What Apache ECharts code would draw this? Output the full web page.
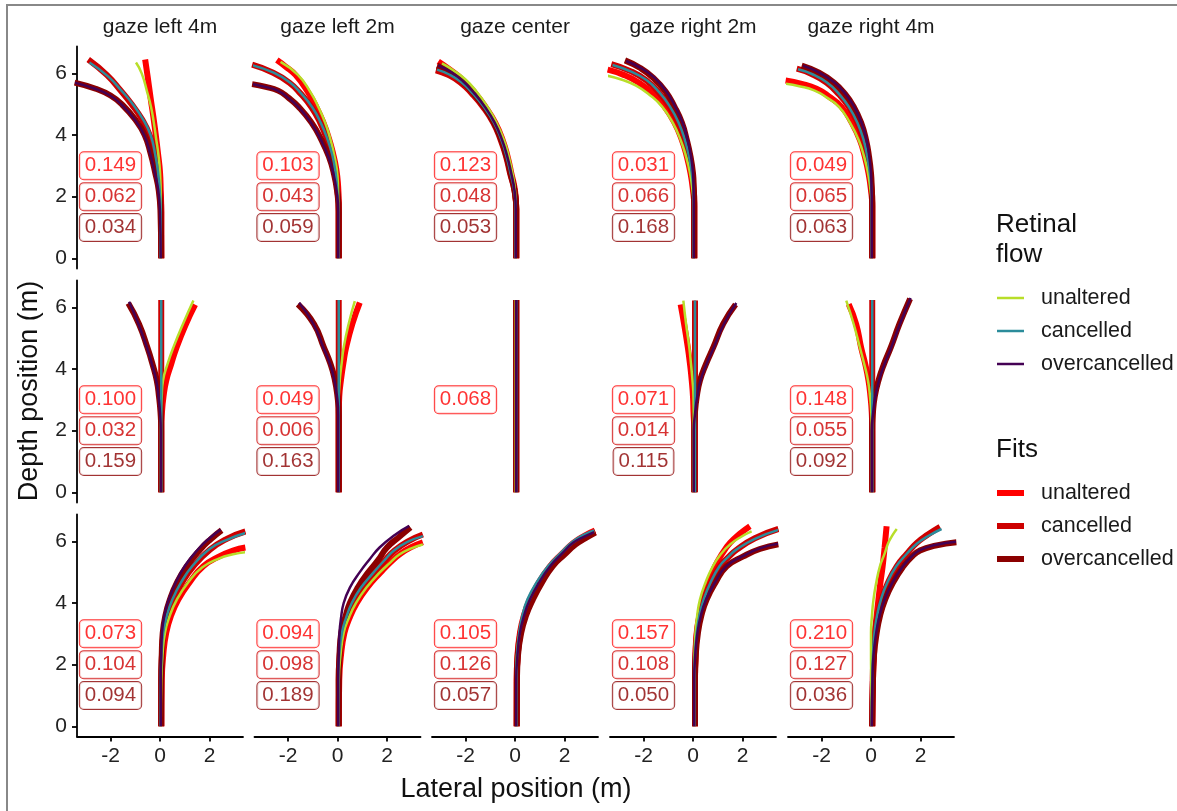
<!DOCTYPE html>
<html>
<head>
<meta charset="utf-8">
<script src="https://cdn.jsdelivr.net/npm/echarts@6.0.0/dist/echarts.min.js"></script>
<style>
  html, body { margin: 0; padding: 0; background: #fff; }
  #chart { width: 1177px; height: 811px; }
</style>
</head>
<body>
<div id="chart"></div>
<script>
// facets
const gazes = ['gaze left 4m', 'gaze left 2m', 'gaze center', 'gaze right 2m', 'gaze right 4m'];
const xTicks = [-2, 0, 2];
const yTicks = [0, 2, 4, 6];
const flowNames = ['unaltered', 'cancelled', 'overcancelled'];

// trajectories per panel (row-major: 3 rows x 5 gaze columns), [lateral, depth]
const fitUnaltered = [
  [[0.05,0],[0.05,1.5],[0.03,2.2],[0,2.8],[-0.08,3.4],[-0.17,4],[-0.27,4.6],[-0.38,5.2],[-0.5,5.9],[-0.6,6.45]],
  [[0.05,0],[0.05,1.8],[0.02,2.4],[-0.05,2.9],[-0.18,3.4],[-0.35,3.9],[-0.57,4.4],[-0.85,4.9],[-1.2,5.4],[-1.7,5.95],[-2.1,6.22],[-2.45,6.43]],
  [[0.05,0],[0.05,1.6],[0,2.2],[-0.15,2.76],[-0.3,3.3],[-0.5,3.84],[-0.8,4.4],[-1.2,4.92],[-1.65,5.4],[-2.1,5.78],[-2.6,6.1],[-3.1,6.38]],
  [[0.05,0],[0.05,1.7],[0,2.2],[-0.1,2.76],[-0.25,3.3],[-0.45,3.84],[-0.75,4.4],[-1.15,4.92],[-1.6,5.33],[-2.2,5.7],[-2.8,5.95],[-3.45,6.12]],
  [[0.05,0],[0.05,1.7],[0,2.2],[-0.1,2.76],[-0.25,3.3],[-0.45,3.84],[-0.78,4.4],[-1.2,4.92],[-1.7,5.25],[-2.2,5.5],[-2.8,5.66],[-3.45,5.77]],
  [[0.05,0],[0.05,2],[0.08,2.6],[0.14,3.1],[0.25,3.62],[0.45,4.15],[0.67,4.7],[1.05,5.46],[1.42,6.09]],
  [[0.05,0],[0.05,2.5],[0.07,3.1],[0.15,3.7],[0.24,4.2],[0.35,4.7],[0.6,5.46],[0.9,6.15]],
  [[0.05,0],[0.05,3],[0.05,6.24]],
  [[0.05,0],[0.05,2],[0.02,2.6],[0,3.1],[-0.05,3.62],[-0.12,4.15],[-0.21,4.7],[-0.36,5.46],[-0.5,6.09]],
  [[0.05,0],[0.05,2],[0.03,2.6],[-0.02,3.1],[-0.1,3.62],[-0.23,4.15],[-0.4,4.7],[-0.6,5.46],[-0.9,6.1]],
  [[0.05,0],[0.07,1.5],[0.13,2.3],[0.25,3.03],[0.45,3.6],[0.74,4.11],[1.18,4.65],[1.75,5.19],[2.42,5.52],[2.95,5.7],[3.45,5.8]],
  [[0.05,0],[0.07,1.5],[0.14,2.3],[0.28,3.03],[0.48,3.5],[0.78,4],[1.2,4.5],[1.75,5],[2.15,5.33],[2.55,5.6],[3,5.82],[3.45,5.97]],
  [[0.07,0],[0.07,1.5],[0.1,2.3],[0.2,3.03],[0.36,3.6],[0.6,4.11],[0.95,4.65],[1.41,5.19],[1.9,5.6],[2.36,5.95],[2.8,6.18],[3.23,6.35]],
  [[0.08,0],[0.08,1.5],[0.1,2.3],[0.15,3.03],[0.26,3.6],[0.42,4.11],[0.63,4.65],[0.89,5.19],[1.18,5.6],[1.5,5.95],[1.9,6.25],[2.3,6.49]],
  [[0.05,0],[0.08,1.5],[0.12,2.3],[0.16,3.03],[0.23,3.6],[0.3,4.11],[0.38,4.65],[0.47,5.19],[0.55,5.8],[0.63,6.49]]
];
const fitCancelled = [
  [[0.05,0],[0.05,1.5],[0,2.2],[-0.1,2.8],[-0.22,3.4],[-0.42,4],[-0.72,4.5],[-1.15,5],[-1.6,5.45],[-2.15,5.95],[-2.9,6.45]],
  [[0.05,0],[0.05,1.6],[0,2.2],[-0.08,2.8],[-0.22,3.35],[-0.42,3.85],[-0.7,4.4],[-1.05,4.9],[-1.5,5.35],[-1.95,5.7],[-2.6,6.02],[-3.45,6.28]],
  [[0.05,0],[0.05,1.6],[-0.02,2.2],[-0.2,2.76],[-0.36,3.3],[-0.58,3.84],[-0.88,4.4],[-1.3,4.92],[-1.75,5.35],[-2.2,5.7],[-2.7,5.95],[-3.2,6.1]],
  [[0.05,0],[0.05,1.8],[0.02,2.3],[-0.05,2.76],[-0.17,3.3],[-0.35,3.84],[-0.6,4.4],[-0.95,4.92],[-1.38,5.38],[-1.9,5.78],[-2.55,6.08],[-3.3,6.3]],
  [[0.05,0],[0.05,1.8],[0.02,2.3],[-0.05,2.76],[-0.15,3.3],[-0.3,3.84],[-0.55,4.4],[-0.9,4.92],[-1.3,5.32],[-1.8,5.7],[-2.4,5.98],[-3,6.15]],
  [[0.05,0],[0.05,3],[0.05,6.24]],
  [[0.05,0],[0.05,3],[0.05,6.24]],
  [[0.05,0],[0.05,3],[0.05,6.24]],
  [[0.08,0],[0.08,3],[0.08,6.22]],
  [[0.05,0],[0.05,3],[0.05,6.24]],
  [[0.05,0],[0.05,1.5],[0.08,2.3],[0.15,3.03],[0.3,3.6],[0.54,4.11],[0.88,4.65],[1.35,5.19],[2.02,5.73],[2.7,6.08],[3.45,6.32]],
  [[0.05,0],[0.05,1.5],[0.09,2.3],[0.2,3.03],[0.36,3.5],[0.6,4],[0.98,4.5],[1.5,5],[1.9,5.37],[2.3,5.7],[2.85,6],[3.45,6.22]],
  [[0.07,0],[0.07,1.5],[0.11,2.3],[0.22,3.03],[0.4,3.6],[0.65,4.11],[1,4.65],[1.47,5.19],[1.95,5.58],[2.4,5.93],[2.83,6.14],[3.25,6.3]],
  [[0.08,0],[0.08,1.5],[0.1,2.3],[0.16,3.03],[0.27,3.6],[0.44,4.11],[0.72,4.65],[1.09,5.19],[1.42,5.48],[1.77,5.73],[2.5,6.1],[3.45,6.4]],
  [[0.05,0],[0.07,1.5],[0.1,2.3],[0.16,3.03],[0.27,3.6],[0.43,4.11],[0.68,4.65],[1.04,5.19],[1.45,5.6],[1.85,5.95],[2.3,6.22],[2.79,6.47]]
];
const fitOver = [
  [[0.05,0],[0.02,1.5],[-0.05,2.2],[-0.2,2.8],[-0.38,3.4],[-0.62,4],[-1,4.5],[-1.55,5],[-2,5.28],[-2.6,5.5],[-3.45,5.7]],
  [[0.05,0],[0.05,1.5],[-0.02,2.2],[-0.15,2.76],[-0.35,3.3],[-0.65,3.84],[-1.05,4.4],[-1.58,4.92],[-2,5.22],[-2.4,5.44],[-2.9,5.56],[-3.45,5.65]],
  [[0.05,0],[0.05,1.6],[-0.02,2.2],[-0.18,2.76],[-0.34,3.3],[-0.55,3.84],[-0.85,4.4],[-1.25,4.92],[-1.7,5.38],[-2.15,5.76],[-2.65,6.05],[-3.15,6.25]],
  [[0.05,0],[0.05,1.8],[0.03,2.3],[0,2.76],[-0.1,3.3],[-0.25,3.84],[-0.45,4.4],[-0.75,4.92],[-1.1,5.4],[-1.6,5.85],[-2.15,6.18],[-2.75,6.42]],
  [[0.05,0],[0.05,1.8],[0.03,2.3],[0,2.76],[-0.08,3.3],[-0.2,3.84],[-0.4,4.4],[-0.7,4.92],[-1.05,5.33],[-1.5,5.7],[-2.1,6.02],[-2.8,6.25]],
  [[0.05,0],[0.05,2],[0.02,2.6],[-0.04,3.1],[-0.13,3.62],[-0.3,4.15],[-0.51,4.7],[-0.85,5.46],[-1.28,6.13]],
  [[0.05,0],[0.05,2.5],[0,3.1],[-0.12,3.7],[-0.3,4.2],[-0.55,4.7],[-0.95,5.46],[-1.6,6.1]],
  [[0.05,0],[0.05,3],[0.05,6.24]],
  [[0.05,0],[0.05,2],[0.08,2.6],[0.15,3.1],[0.28,3.62],[0.52,4.15],[0.82,4.7],[1.22,5.46],[1.72,6.09]],
  [[0.05,0],[0.05,2],[0.08,2.6],[0.15,3.1],[0.3,3.62],[0.52,4.15],[0.8,4.7],[1.15,5.46],[1.58,6.28]],
  [[0.05,0],[0.05,1.5],[0.07,2.3],[0.11,3.03],[0.22,3.6],[0.4,4.11],[0.68,4.65],[1.08,5.19],[1.62,5.73],[2.05,6.07],[2.49,6.36]],
  [[0.05,0],[0.05,1.5],[0.08,2.3],[0.15,3.03],[0.3,3.5],[0.5,4],[0.82,4.5],[1.25,5],[1.65,5.4],[2,5.8],[2.5,6.15],[2.95,6.45]],
  [[0.07,0],[0.08,1.5],[0.12,2.3],[0.25,3.03],[0.45,3.6],[0.72,4.11],[1.08,4.65],[1.52,5.19],[2,5.57],[2.45,5.9],[2.85,6.1],[3.25,6.28]],
  [[0.08,0],[0.08,1.5],[0.11,2.3],[0.2,3.03],[0.34,3.6],[0.55,4.11],[0.9,4.65],[1.36,5.19],[2.03,5.51],[2.7,5.75],[3.45,5.9]],
  [[0.05,0],[0.08,1.5],[0.12,2.3],[0.23,3.03],[0.37,3.6],[0.57,4.11],[0.88,4.65],[1.31,5.19],[1.65,5.5],[1.98,5.7],[2.6,5.86],[3.45,5.97]]
];
const flowUnaltered = [
  [[0.03,0],[0.03,2],[0,2.8],[-0.07,3.4],[-0.15,3.85],[-0.25,4.4],[-0.36,4.9],[-0.52,5.4],[-0.74,6],[-0.97,6.35]],
  [[0.03,0],[0.03,1.8],[0.02,2.4],[-0.03,2.9],[-0.15,3.4],[-0.3,3.9],[-0.5,4.4],[-0.77,4.9],[-1.1,5.4],[-1.6,5.95],[-2.3,6.37]],
  [[0.03,0],[0.03,1.6],[0,2.2],[-0.1,2.76],[-0.25,3.3],[-0.45,3.84],[-0.75,4.4],[-1.12,4.92],[-1.55,5.4],[-2,5.8],[-2.5,6.1],[-2.95,6.32]],
  [[0.03,0],[0.03,1.7],[-0.02,2.2],[-0.12,2.76],[-0.28,3.3],[-0.5,3.84],[-0.82,4.4],[-1.25,4.92],[-1.75,5.3],[-2.3,5.6],[-2.9,5.8],[-3.45,5.92]],
  [[0.03,0],[0.03,1.7],[-0.02,2.2],[-0.12,2.76],[-0.28,3.3],[-0.5,3.84],[-0.85,4.4],[-1.3,4.92],[-1.8,5.22],[-2.3,5.45],[-2.9,5.58],[-3.45,5.66]],
  [[0.03,0],[0.03,2],[0.04,2.6],[0.07,3.1],[0.12,3.62],[0.3,4.15],[0.54,4.7],[0.95,5.5],[1.35,6.22]],
  [[0.03,0],[0.03,2.5],[0.05,3.1],[0.1,3.7],[0.17,4.2],[0.25,4.7],[0.45,5.46],[0.7,6.2]],
  [[0.03,0],[0.03,3],[0.03,6.24]],
  [[0.03,0],[0.03,2],[0.02,3.1],[-0.02,3.62],[-0.08,4.15],[-0.15,4.7],[-0.28,5.46],[-0.39,6.22]],
  [[0.03,0],[0.03,2],[0.01,2.6],[-0.04,3.1],[-0.12,3.62],[-0.27,4.15],[-0.45,4.7],[-0.7,5.46],[-1,6.22]],
  [[0.03,0],[0.05,1.5],[0.1,2.3],[0.2,3.03],[0.4,3.6],[0.68,4.11],[1.12,4.65],[1.7,5.15],[2.4,5.45],[2.95,5.58],[3.45,5.65]],
  [[0.03,0],[0.05,1.5],[0.12,2.3],[0.25,3.03],[0.45,3.5],[0.75,4],[1.17,4.5],[1.72,5],[2.12,5.3],[2.5,5.57],[2.98,5.77],[3.45,5.9]],
  [[0.05,0],[0.05,1.5],[0.08,2.3],[0.18,3.03],[0.34,3.6],[0.58,4.11],[0.93,4.65],[1.38,5.19],[1.87,5.6],[2.33,5.95],[2.77,6.17],[3.2,6.32]],
  [[0.05,0],[0.05,1.5],[0.06,2.3],[0.1,3.03],[0.17,3.6],[0.28,4.11],[0.5,4.65],[0.8,5.19],[1.12,5.58],[1.5,5.9],[1.95,6.15],[2.37,6.32]],
  [[0.03,0],[0.01,1.5],[0,2.3],[0,3.03],[0.04,3.6],[0.1,4.11],[0.21,4.65],[0.36,5.19],[0.55,5.6],[0.7,5.95],[0.87,6.2],[1.04,6.4]]
];
const flowCancelled = [
  [[0.03,0],[0.03,1.5],[-0.01,2.2],[-0.08,2.8],[-0.2,3.4],[-0.38,4],[-0.68,4.5],[-1.1,5],[-1.55,5.43],[-2.1,5.9],[-2.85,6.35]],
  [[0.03,0],[0.03,1.6],[-0.01,2.2],[-0.08,2.8],[-0.21,3.35],[-0.4,3.85],[-0.68,4.4],[-1.02,4.9],[-1.47,5.35],[-1.92,5.7],[-2.58,6.02],[-3.45,6.26]],
  [[0.03,0],[0.03,1.6],[-0.03,2.2],[-0.18,2.76],[-0.34,3.3],[-0.55,3.84],[-0.85,4.4],[-1.27,4.92],[-1.72,5.36],[-2.18,5.72],[-2.68,5.97],[-3.15,6.12]],
  [[0.03,0],[0.03,1.8],[0.01,2.3],[-0.05,2.76],[-0.16,3.3],[-0.33,3.84],[-0.58,4.4],[-0.93,4.92],[-1.36,5.38],[-1.88,5.78],[-2.52,6.06],[-3.25,6.27]],
  [[0.03,0],[0.03,1.8],[0.01,2.3],[-0.05,2.76],[-0.15,3.3],[-0.3,3.84],[-0.55,4.4],[-0.9,4.92],[-1.28,5.32],[-1.78,5.7],[-2.37,5.97],[-2.95,6.13]],
  [[0.05,0],[0.05,3],[0.05,6.24]],
  [[0.05,0],[0.05,3],[0.05,6.24]],
  [[0.05,0],[0.05,3],[0.05,6.24]],
  [[0.08,0],[0.08,3],[0.08,6.22]],
  [[0.05,0],[0.05,3],[0.05,6.24]],
  [[0.03,0],[0.03,1.5],[0.06,2.3],[0.13,3.03],[0.28,3.6],[0.5,4.11],[0.84,4.65],[1.3,5.19],[2,5.75],[2.7,6.05],[3.45,6.27]],
  [[0.03,0],[0.03,1.5],[0.07,2.3],[0.18,3.03],[0.34,3.5],[0.58,4],[0.95,4.5],[1.47,5],[1.88,5.37],[2.28,5.7],[2.83,5.98],[3.45,6.17]],
  [[0.05,0],[0.05,1.5],[0.08,2.3],[0.17,3.03],[0.3,3.6],[0.5,4.11],[0.86,4.65],[1.33,5.19],[1.82,5.6],[2.3,5.97],[2.75,6.2],[3.2,6.35]],
  [[0.05,0],[0.05,1.5],[0.08,2.3],[0.15,3.03],[0.26,3.6],[0.43,4.11],[0.7,4.65],[1.07,5.19],[1.4,5.48],[1.75,5.73],[2.5,6.08],[3.45,6.37]],
  [[0.03,0],[0.05,1.5],[0.08,2.3],[0.14,3.03],[0.25,3.6],[0.4,4.11],[0.65,4.65],[1.02,5.19],[1.43,5.58],[1.85,5.92],[2.33,6.18],[2.85,6.4]]
];
const flowOver = [
  [[0.03,0],[0,1.5],[-0.07,2.2],[-0.22,2.8],[-0.4,3.4],[-0.64,4],[-1.02,4.5],[-1.57,5],[-2.02,5.28],[-2.62,5.5],[-3.45,5.7]],
  [[0.03,0],[0.03,1.5],[-0.04,2.2],[-0.17,2.76],[-0.37,3.3],[-0.67,3.84],[-1.07,4.4],[-1.6,4.92],[-2.02,5.22],[-2.42,5.44],[-2.92,5.56],[-3.45,5.65]],
  [[0.03,0],[0.03,1.6],[-0.02,2.2],[-0.15,2.76],[-0.31,3.3],[-0.52,3.84],[-0.82,4.4],[-1.22,4.92],[-1.67,5.38],[-2.12,5.76],[-2.6,6.05],[-3.1,6.25]],
  [[0.03,0],[0.03,1.8],[0.02,2.3],[0,2.76],[-0.08,3.3],[-0.22,3.84],[-0.42,4.4],[-0.72,4.92],[-1.07,5.4],[-1.55,5.85],[-2.1,6.17],[-2.7,6.4]],
  [[0.03,0],[0.03,1.8],[0.02,2.3],[0,2.76],[-0.07,3.3],[-0.18,3.84],[-0.38,4.4],[-0.68,4.92],[-1.03,5.33],[-1.48,5.7],[-2.08,6.02],[-2.75,6.25]],
  [[0.03,0],[0.03,2],[0,2.6],[-0.06,3.1],[-0.15,3.62],[-0.32,4.15],[-0.53,4.7],[-0.87,5.46],[-1.25,6.18]],
  [[0.03,0],[0.03,2.5],[-0.02,3.1],[-0.14,3.7],[-0.32,4.2],[-0.57,4.7],[-0.97,5.46],[-1.55,6.15]],
  [[0.05,0],[0.05,3],[0.05,6.24]],
  [[0.03,0],[0.03,2],[0.09,2.6],[0.17,3.1],[0.3,3.62],[0.54,4.15],[0.84,4.7],[1.25,5.46],[1.75,6.14]],
  [[0.03,0],[0.03,2],[0.09,2.6],[0.17,3.1],[0.32,3.62],[0.54,4.15],[0.82,4.7],[1.17,5.46],[1.6,6.3]],
  [[0.03,0],[0.03,1.5],[0.05,2.3],[0.08,3.03],[0.18,3.6],[0.35,4.11],[0.63,4.65],[1,5.19],[1.55,5.75],[2,6.1],[2.45,6.38]],
  [[0.03,0],[0.03,1.5],[0.05,2.3],[0.08,3.03],[0.14,3.5],[0.25,4],[0.5,4.5],[0.9,5],[1.3,5.42],[1.7,5.8],[2.3,6.2],[2.9,6.5]],
  [[0.05,0],[0.05,1.5],[0.1,2.3],[0.2,3.03],[0.37,3.6],[0.6,4.11],[0.96,4.65],[1.42,5.19],[1.9,5.6],[2.35,5.95],[2.8,6.15],[3.2,6.3]],
  [[0.05,0],[0.05,1.5],[0.09,2.3],[0.18,3.03],[0.32,3.6],[0.53,4.11],[0.88,4.65],[1.34,5.19],[2.01,5.52],[2.7,5.77],[3.45,5.92]],
  [[0.03,0],[0.06,1.5],[0.1,2.3],[0.21,3.03],[0.35,3.6],[0.55,4.11],[0.86,4.65],[1.29,5.19],[1.63,5.5],[1.96,5.71],[2.6,5.88],[3.45,5.99]]
];

// fit error labels per panel
const errUnaltered = [0.149, 0.103, 0.123, 0.031, 0.049, 0.100, 0.049, 0.068, 0.071, 0.148, 0.073, 0.094, 0.105, 0.157, 0.210];
const errCancelled = [0.062, 0.043, 0.048, 0.066, 0.065, 0.032, 0.006, null, 0.014, 0.055, 0.104, 0.098, 0.126, 0.108, 0.127];
const errOver      = [0.034, 0.059, 0.053, 0.168, 0.063, 0.159, 0.163, null, 0.115, 0.092, 0.094, 0.189, 0.057, 0.050, 0.036];
const labelY = [3, 2, 1];

const flowColors = ['#b8de29', '#2b8c9b', '#440154'];
const fitColors = ['#ff0000', '#cd0000', '#8b0000'];
const FONT = '"Liberation Sans", Arial, sans-serif';

const colLeft = [77, 254.5, 432, 610, 788];
const rowTop = [46.5, 280.5, 514.5];
const panelW = 166, panelH = 222;

const chart = echarts.init(document.getElementById('chart'), null, { renderer: 'canvas' });

const grids = [], xAxes = [], yAxes = [], series = [];
for (let r = 0; r < 3; r++) {
  for (let c = 0; c < 5; c++) {
    const p = r * 5 + c;
    grids.push({ left: colLeft[c], top: rowTop[r], width: panelW, height: panelH, containLabel: false });
    const showX = r === 2, showY = c === 0;
    xAxes.push({
      gridIndex: p, type: 'value', min: -3.354, max: 3.354,
      axisLine: { show: showX, onZero: false, lineStyle: { color: '#000', width: 1.8 } },
      axisTick: { show: showX, length: 5, customValues: xTicks, lineStyle: { color: '#000', width: 1.8 } },
      axisLabel: { show: showX, customValues: xTicks, margin: 9, fontSize: 21, color: '#222', fontFamily: FONT },
      splitLine: { show: false }
    });
    yAxes.push({
      gridIndex: p, type: 'value', min: -0.33, max: 6.87,
      axisLine: { show: showY, onZero: false, lineStyle: { color: '#000', width: 1.8 } },
      axisTick: { show: showY, length: 5, customValues: yTicks, lineStyle: { color: '#000', width: 1.8 } },
      axisLabel: { show: showY, customValues: yTicks, margin: 10, fontSize: 21, color: '#222', fontFamily: FONT },
      splitLine: { show: false }
    });

    [fitUnaltered, fitCancelled, fitOver].forEach((set, k) => {
      series.push({
        type: 'line', xAxisIndex: p, yAxisIndex: p, data: set[p],
        showSymbol: false, smooth: 0.5, clip: true, silent: true,
        lineStyle: { width: 6, color: fitColors[k], cap: 'butt' }
      });
    });
    [flowUnaltered, flowCancelled, flowOver].forEach((set, k) => {
      series.push({
        type: 'line', xAxisIndex: p, yAxisIndex: p, data: set[p],
        showSymbol: false, smooth: 0.5, clip: true, silent: true,
        lineStyle: { width: 2.5, color: flowColors[k] }
      });
    });

    const labs = [];
    [errUnaltered, errCancelled, errOver].forEach((arr, k) => {
      if (arr[p] === null) return;
      labs.push({
        value: [-2, labelY[k]], name: arr[p].toFixed(3),
        label: { color: fitColors[k], borderColor: fitColors[k] }
      });
    });
    series.push({
      type: 'scatter', xAxisIndex: p, yAxisIndex: p, data: labs,
      symbolSize: 1, itemStyle: { color: 'rgba(0,0,0,0)' }, silent: true, z: 5,
      label: {
        show: true, position: 'inside', formatter: '{b}',
        fontSize: 20.5, fontFamily: FONT, lineHeight: 22,
        backgroundColor: '#fff', borderWidth: 1, borderRadius: 4, padding: [3, 5, 2, 5]
      }
    });
  }
}

const graphics = [
  { type: 'rect', shape: { x: 7, y: 5, width: 1200, height: 850 }, style: { fill: 'none', stroke: '#888', lineWidth: 2 }, z: 100 },
  { type: 'text', x: 516, y: 790, style: { text: 'Lateral position (m)', font: '27px ' + FONT, fill: '#111', textAlign: 'center', textVerticalAlign: 'middle' } },
  { type: 'text', x: 30, y: 391, rotation: Math.PI / 2, style: { text: 'Depth position (m)', font: '27px ' + FONT, fill: '#111', textAlign: 'center', textVerticalAlign: 'middle' } }
];
gazes.forEach((g, c) => {
  graphics.push({ type: 'text', x: colLeft[c] + panelW / 2, y: 27, style: { text: g, font: '21px ' + FONT, fill: '#1a1a1a', textAlign: 'center', textVerticalAlign: 'middle' } });
});
// legends
graphics.push({ type: 'text', x: 996, y: 225, style: { text: 'Retinal', font: '26px ' + FONT, fill: '#111', textVerticalAlign: 'middle' } });
graphics.push({ type: 'text', x: 996, y: 255, style: { text: 'flow', font: '26px ' + FONT, fill: '#111', textVerticalAlign: 'middle' } });
graphics.push({ type: 'text', x: 996, y: 450, style: { text: 'Fits', font: '26px ' + FONT, fill: '#111', textVerticalAlign: 'middle' } });
flowNames.forEach((n, k) => {
  const y1 = 298 + k * 33, y2 = 493 + k * 33;
  graphics.push({ type: 'line', shape: { x1: 997, y1: y1, x2: 1024, y2: y1 }, style: { stroke: flowColors[k], lineWidth: 2.5 } });
  graphics.push({ type: 'text', x: 1041, y: y1, style: { text: n, font: '21.5px ' + FONT, fill: '#1a1a1a', textVerticalAlign: 'middle' } });
  graphics.push({ type: 'line', shape: { x1: 997, y1: y2, x2: 1024, y2: y2 }, style: { stroke: fitColors[k], lineWidth: 6 } });
  graphics.push({ type: 'text', x: 1041, y: y2, style: { text: n, font: '21.5px ' + FONT, fill: '#1a1a1a', textVerticalAlign: 'middle' } });
});

chart.setOption({
  animation: false,
  backgroundColor: '#fff',
  grid: grids,
  xAxis: xAxes,
  yAxis: yAxes,
  series: series,
  graphic: graphics
});
</script>
</body>
</html>
